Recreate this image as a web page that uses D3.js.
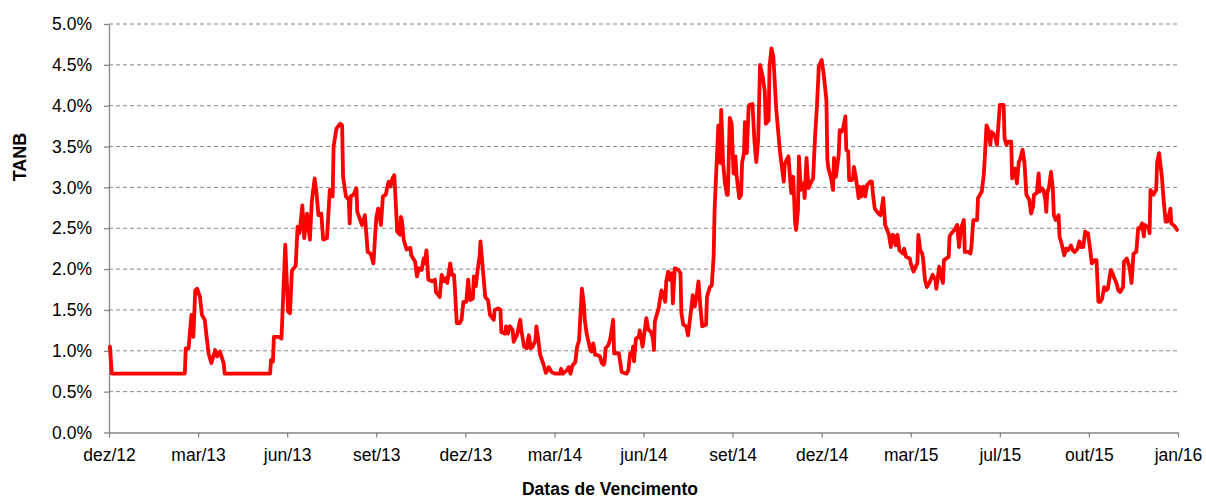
<!DOCTYPE html>
<html>
<head>
<meta charset="utf-8">
<title>TANB</title>
<script src="https://cdn.jsdelivr.net/npm/d3@7/dist/d3.min.js"></script>
<style>
body { margin: 0; background: #fff; }
svg text { font-family: "Liberation Sans", Arial, sans-serif; fill: #000; }
</style>
</head>
<body>
<svg id="chart" width="1206" height="498"></svg>
<script>

// TANB por data de vencimento
// dias contados a partir do primeiro vencimento (03/12/2012)

var diasVenc = [
    1, 3, 80, 81, 84, 85, 87, 89, 91, 93, 96, 98, 101, 105, 108, 112, 114, 117, 121, 122,
    170, 171, 173, 174, 179, 182, 186, 189, 191, 193, 197, 199, 201, 204, 206, 209, 212, 214, 217, 219,
    221, 224, 226, 230, 233, 236, 237, 240, 244, 246, 247, 250, 253, 254, 255, 258, 261, 262, 267, 270,
    273, 276, 279, 282, 284, 287, 289, 292, 295, 297, 299, 301, 303, 304, 307, 308, 309, 311, 314, 318,
    319, 323, 325, 327, 330, 332, 333, 335, 337, 341, 344, 345, 349, 351, 354, 356, 357, 360, 362, 364,
    365, 367, 370, 372, 374, 377, 379, 381, 384, 385, 387, 389, 391, 392, 395, 397, 400, 402, 406, 407,
    411, 413, 414, 418, 419, 421, 423, 426, 427, 431, 433, 434, 435, 438, 441, 442, 443, 445, 447, 450,
    451, 453, 455, 458, 461, 464, 467, 471, 476, 477, 479, 483, 485, 487, 489, 492, 494, 496, 499, 501,
    502, 504, 508, 509, 511, 513, 515, 518, 520, 522, 523, 524, 527, 529, 532, 533, 536, 538, 541, 546,
    548, 550, 552, 553, 554, 556, 559, 560, 563, 567, 569, 572, 574, 575, 576, 580, 581, 583, 587, 588,
    590, 592, 594, 595, 597, 601, 603, 604, 606, 609, 611, 613, 616, 618, 620, 622, 624, 626, 630, 631,
    634, 636, 638, 639, 641, 643, 645, 646, 648, 650, 652, 653, 655, 657, 659, 661, 662, 665, 667, 668,
    670, 671, 673, 675, 676, 679, 681, 683, 685, 687, 690, 692, 693, 696, 697, 699, 701, 704, 706, 708,
    710, 712, 713, 715, 717, 719, 720, 722, 724, 725, 727, 728, 730, 733, 734, 736, 738, 741, 743, 745,
    747, 749, 752, 754, 757, 758, 759, 762, 764, 765, 767, 770, 771, 773, 775, 777, 778, 780, 781, 784,
    785, 786, 788, 791, 792, 794, 796, 798, 800, 803, 805, 806, 808, 812, 814, 815, 817, 819, 821, 823,
    825, 827, 829, 830, 832, 834, 838, 839, 841, 845, 846, 849, 852, 853, 854, 856, 858, 859, 861, 863,
    866, 869, 872, 873, 876, 878, 880, 881, 886, 887, 889, 892, 895, 897, 899, 902, 903, 907, 909, 910,
    912, 916, 917, 921, 923, 924, 926, 928, 930, 931, 933, 935, 937, 940, 944, 945, 947, 949, 952, 953,
    954, 956, 958, 960, 961, 964, 966, 968, 970, 971, 973, 975, 976, 979, 981, 982, 984, 986, 988, 989,
    990, 992, 994, 996, 997, 999, 1002, 1003, 1005, 1008, 1010, 1012, 1015, 1017, 1019, 1022, 1024, 1026, 1028, 1030,
    1032, 1033, 1035, 1037, 1040, 1042, 1044, 1046, 1048, 1050, 1052, 1054, 1057, 1059, 1060, 1063, 1065, 1067, 1070, 1071,
    1074, 1077, 1079, 1081, 1084, 1086, 1088, 1090, 1092, 1093, 1095, 1097, 1098, 1099, 1102, 1105, 1106, 1108, 1111, 1113,
    1115, 1117, 1120, 1121, 1125, 1127
];

var tanb = [
    1.05, 0.72, 0.72, 1.03, 1.03, 1.17, 1.44, 1.17, 1.74, 1.76, 1.66, 1.44, 1.38, 0.97, 0.85, 1.01, 0.93, 0.99, 0.85, 0.72,
    0.72, 0.89, 0.87, 1.17, 1.17, 1.15, 2.30, 1.48, 1.46, 1.98, 2.04, 2.52, 2.44, 2.78, 2.38, 2.68, 2.36, 2.83, 3.11, 2.93,
    2.66, 2.68, 2.36, 2.38, 2.97, 2.89, 3.50, 3.72, 3.78, 3.76, 3.13, 2.89, 2.85, 2.56, 2.89, 2.91, 2.99, 2.70, 2.54, 2.66,
    2.21, 2.19, 2.07, 2.62, 2.74, 2.54, 2.89, 2.91, 3.07, 3.01, 3.11, 3.15, 2.72, 2.46, 2.42, 2.64, 2.60, 2.36, 2.24, 2.26,
    2.17, 2.09, 1.91, 2.01, 1.99, 2.13, 2.07, 2.23, 1.87, 1.85, 1.87, 1.72, 1.66, 1.93, 1.85, 1.89, 1.83, 2.07, 1.93, 1.93,
    1.76, 1.34, 1.34, 1.38, 1.60, 1.60, 1.87, 1.62, 1.64, 1.91, 1.79, 1.99, 2.15, 2.34, 1.93, 1.66, 1.62, 1.44, 1.38, 1.50,
    1.52, 1.50, 1.23, 1.21, 1.30, 1.21, 1.30, 1.25, 1.11, 1.21, 1.34, 1.38, 1.26, 1.05, 1.03, 1.13, 1.19, 1.03, 1.05, 1.13,
    1.30, 1.13, 0.95, 0.85, 0.73, 0.80, 0.74, 0.72, 0.72, 0.78, 0.72, 0.76, 0.80, 0.72, 0.82, 0.86, 1.05, 1.13, 1.76, 1.58,
    1.38, 1.21, 1.01, 0.99, 1.09, 0.95, 0.95, 0.93, 0.85, 0.83, 0.87, 1.03, 1.07, 1.15, 1.38, 0.97, 0.97, 0.97, 0.74, 0.72,
    0.76, 0.97, 0.95, 1.05, 0.87, 1.15, 1.17, 1.25, 1.05, 1.40, 1.26, 1.23, 1.15, 1.01, 1.36, 1.52, 1.60, 1.74, 1.60, 1.85,
    1.97, 1.87, 1.95, 1.58, 2.01, 1.99, 1.95, 1.46, 1.32, 1.30, 1.19, 1.38, 1.68, 1.54, 1.66, 1.85, 1.54, 1.30, 1.32, 1.66,
    1.78, 1.80, 2.15, 2.72, 3.25, 3.76, 3.30, 3.95, 3.30, 3.05, 2.91, 2.91, 3.85, 3.78, 3.17, 3.38, 3.17, 2.87, 2.91, 3.30,
    3.42, 3.80, 3.42, 3.99, 4.01, 4.02, 3.58, 3.31, 3.58, 4.50, 4.34, 4.17, 3.78, 3.82, 4.48, 4.70, 4.60, 3.97, 3.70, 3.44,
    3.25, 3.07, 3.28, 3.34, 3.38, 3.05, 2.93, 3.13, 2.56, 2.48, 2.72, 3.38, 2.97, 3.05, 2.87, 3.36, 2.99, 3.07, 3.11, 3.62,
    3.99, 4.48, 4.56, 4.40, 4.07, 3.34, 3.24, 3.11, 2.97, 3.36, 3.13, 3.40, 3.70, 3.68, 3.74, 3.87, 3.46, 3.44, 3.09, 3.09,
    3.11, 3.25, 3.13, 2.87, 3.01, 2.89, 3.01, 2.89, 3.03, 3.07, 3.07, 2.93, 2.74, 2.68, 2.66, 2.72, 2.87, 2.54, 2.48, 2.42,
    2.27, 2.42, 2.40, 2.29, 2.42, 2.23, 2.19, 2.25, 2.15, 2.13, 2.07, 1.97, 2.05, 2.07, 2.42, 2.23, 2.19, 2.13, 1.87, 1.78,
    1.84, 1.93, 1.87, 1.76, 2.03, 1.91, 1.83, 2.11, 2.15, 2.40, 2.44, 2.48, 2.54, 2.27, 2.50, 2.60, 2.21, 2.21, 2.19, 2.27,
    2.60, 2.60, 2.87, 2.95, 3.15, 3.34, 3.76, 3.70, 3.52, 3.68, 3.66, 3.62, 3.52, 4.01, 4.01, 3.60, 3.52, 3.56, 3.56, 3.11,
    3.17, 3.23, 3.05, 3.31, 3.33, 3.46, 3.30, 2.91, 2.87, 2.85, 2.68, 2.76, 2.91, 2.93, 3.17, 2.95, 2.99, 2.97, 2.85, 2.70,
    2.93, 3.01, 3.19, 2.97, 2.66, 2.60, 2.66, 2.40, 2.32, 2.17, 2.25, 2.23, 2.29, 2.23, 2.21, 2.25, 2.34, 2.27, 2.27, 2.46,
    2.42, 2.44, 2.27, 2.07, 2.11, 2.11, 1.60, 1.60, 1.64, 1.78, 1.74, 1.76, 1.99, 1.95, 1.91, 1.83, 1.74, 1.72, 1.78, 2.09,
    2.13, 2.01, 1.83, 2.19, 2.21, 2.50, 2.50, 2.56, 2.40, 2.54, 2.52, 2.50, 2.44, 2.97, 2.91, 2.97, 3.31, 3.42, 3.13, 2.82,
    2.58, 2.58, 2.74, 2.56, 2.52, 2.48
];

var tickLabels = ["dez/12", "mar/13", "jun/13", "set/13", "dez/13", "mar/14", "jun/14",
                  "set/14", "dez/14", "mar/15", "jul/15", "out/15", "jan/16"];
var passoTicks = 94;   // Excel major unit (days)
var yTicks = [0, 0.5, 1.0, 1.5, 2.0, 2.5, 3.0, 3.5, 4.0, 4.5, 5.0];


function plot() {

    var svg = d3.select("#chart");
    var left = 109, right = 1178, top = 24, bottom = 432.5;
    var cinza = "#868686";

    var data = [];
    for (var kk = 0; kk < diasVenc.length; kk++) {
	data.push({dia: diasVenc[kk], v: tanb[kk]});
    }

    var tickDias = tickLabels.map(function(d, i) { return i * passoTicks; });

    var xScale = d3.scaleLinear()
	.domain([0, passoTicks * (tickLabels.length - 1)])
	.range([left, right]);
    var yScale = d3.scaleLinear()
	.domain([0, 5])
	.range([bottom, top]);

    // grid
    svg.append("g")
	.selectAll("line")
	.data(yTicks.filter(function(d) { return d > 0; }))
	.enter()
	.append("line")
	.attr("x1", left)
	.attr("x2", right)
	.attr("y1", function(d) { return yScale(d); })
	.attr("y2", function(d) { return yScale(d); })
	.style("stroke", cinza)
	.style("stroke-width", 1)
	.style("stroke-dasharray", "4,3");

    var yAxis = d3.axisLeft(yScale)
	.tickValues(yTicks)
	.tickSize(5)
	.tickSizeOuter(0)
	.tickPadding(12)
	.tickFormat(function(d) { return d.toFixed(1) + "%"; });

    var xAxis = d3.axisBottom(xScale)
	.tickValues(tickDias)
	.tickSize(5)
	.tickSizeOuter(0)
	.tickPadding(11)
	.tickFormat(function(d, i) { return tickLabels[i]; });

    var gy = svg.append("g")
	.attr("transform", "translate(" + left + ",0)")
	.call(yAxis);

    var gx = svg.append("g")
	.attr("transform", "translate(0," + bottom + ")")
	.call(xAxis);

    [gx, gy].forEach(function(g) {
	g.select(".domain").style("stroke", cinza).style("stroke-width", 1.3);
	g.selectAll(".tick line").style("stroke", cinza).style("stroke-width", 1.3);
	g.selectAll(".tick text").style("font-size", "17.5px").style("fill", "#000");
    });

    var linha = d3.line()
	.x(function(d) { return xScale(d.dia); })
	.y(function(d) { return yScale(d.v); });

    svg.append("path")
	.datum(data)
	.attr("d", linha)
	.style("fill", "none")
	.style("stroke", "#ff0000")
	.style("stroke-width", 3.8)
	.style("stroke-linejoin", "round")
	.style("stroke-linecap", "round");

    svg.append("text")
	.attr("transform", "translate(26,157) rotate(-90)")
	.attr("text-anchor", "middle")
	.style("font-size", "18px")
	.style("font-weight", "bold")
	.text("TANB");

    svg.append("text")
	.attr("x", 610)
	.attr("y", 495)
	.attr("text-anchor", "middle")
	.style("font-size", "17.5px")
	.style("font-weight", "bold")
	.text("Datas de Vencimento");
}

plot();

</script>
</body>
</html>
